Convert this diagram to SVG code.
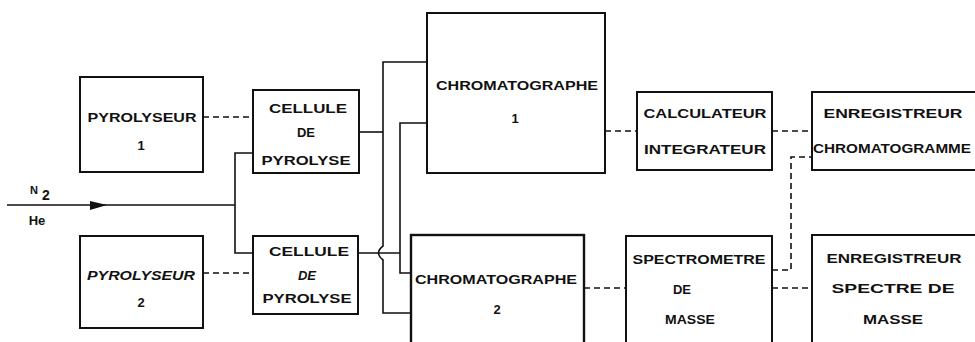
<svg xmlns="http://www.w3.org/2000/svg" width="975" height="342" viewBox="0 0 975 342">
<style>
.box{fill:#fff;stroke:#111;stroke-width:2}
.t{font-family:"Liberation Sans",Arial,sans-serif;font-weight:bold;font-size:13px;fill:#111;text-anchor:middle}
.s{fill:none;stroke:#111;stroke-width:1.6}
.d{fill:none;stroke:#111;stroke-width:1.6;stroke-dasharray:6 4}
</style>
<rect width="975" height="342" fill="#fff"/>
<g id="connectors">
<path class="d" d="M203,117 H253"/>
<path class="d" d="M203,273 H253"/>
<path class="s" d="M7,205 H235"/>
<polygon points="90,201 107,205 90,210" fill="#111"/>
<path class="s" d="M253,153 H235 V253 H253"/>
<path class="s" d="M359,132 H383"/>
<path class="s" d="M427,62 H383 V246 Q374,253 383,260 V313 H411"/>
<path class="s" d="M427,123 H400 V273 H411"/>
<path class="s" d="M358,253 H400"/>
<path class="d" d="M605,131 H637"/>
<path class="d" d="M772,131 H812"/>
<path class="d" d="M772,270 H791 V157 H812"/>
<path class="d" d="M584,288 H626"/>
<path class="d" d="M772,288 H812"/>
</g>
<g id="n2-label">
<text class="t" x="34" y="194" style="font-size:11px">N</text>
<text class="t" x="46" y="200" style="font-size:14px">2</text>
<text class="t" x="37" y="225">He</text>
</g>
<g id="pyrolyseur1">
<rect class="box" x="80" y="77" width="123" height="95"/>
<text class="t" x="142" y="122" textLength="109" lengthAdjust="spacingAndGlyphs">PYROLYSEUR</text>
<text class="t" x="141" y="150">1</text>
</g>
<g id="pyrolyseur2">
<rect class="box" x="80" y="236" width="123" height="92"/>
<text class="t" x="141" y="280" textLength="108" lengthAdjust="spacingAndGlyphs" font-style="italic">PYROLYSEUR</text>
<text class="t" x="141" y="307">2</text>
</g>
<g id="cellule1">
<rect class="box" x="253" y="90" width="106" height="83"/>
<text class="t" x="308" y="113" textLength="78" lengthAdjust="spacingAndGlyphs">CELLULE</text>
<text class="t" x="306" y="137">DE</text>
<text class="t" x="306" y="165" textLength="89" lengthAdjust="spacingAndGlyphs">PYROLYSE</text>
</g>
<g id="cellule2">
<rect class="box" x="253" y="236" width="105" height="78"/>
<text class="t" x="309" y="256" textLength="80" lengthAdjust="spacingAndGlyphs">CELLULE</text>
<text class="t" x="307" y="280" font-style="italic">DE</text>
<text class="t" x="307" y="303" textLength="89" lengthAdjust="spacingAndGlyphs">PYROLYSE</text>
</g>
<g id="chromatographe1">
<rect class="box" x="427" y="13" width="178" height="160"/>
<text class="t" x="517" y="90" textLength="162" lengthAdjust="spacingAndGlyphs">CHROMATOGRAPHE</text>
<text class="t" x="515" y="123">1</text>
</g>
<g id="chromatographe2">
<rect class="box" x="411" y="235" width="173" height="125" style="stroke-width:2.4"/>
<text class="t" x="496" y="284" textLength="162" lengthAdjust="spacingAndGlyphs">CHROMATOGRAPHE</text>
<text class="t" x="497" y="314">2</text>
</g>
<g id="calculateur">
<rect class="box" x="637" y="92" width="135" height="78"/>
<text class="t" x="705" y="118" textLength="123" lengthAdjust="spacingAndGlyphs">CALCULATEUR</text>
<text class="t" x="705" y="154" textLength="122" lengthAdjust="spacingAndGlyphs">INTEGRATEUR</text>
</g>
<g id="enregistreur1">
<rect class="box" x="812" y="92" width="200" height="78"/>
<text class="t" x="893" y="118" textLength="139" lengthAdjust="spacingAndGlyphs">ENREGISTREUR</text>
<text class="t" x="892" y="153" textLength="158" lengthAdjust="spacingAndGlyphs">CHROMATOGRAMME</text>
</g>
<g id="spectrometre">
<rect class="box" x="626" y="236" width="146" height="125"/>
<text class="t" x="699" y="264" textLength="133" lengthAdjust="spacingAndGlyphs">SPECTROMETRE</text>
<text class="t" x="682" y="294">DE</text>
<text class="t" x="690" y="324" textLength="50" lengthAdjust="spacingAndGlyphs">MASSE</text>
</g>
<g id="enregistreur2">
<rect class="box" x="812" y="235" width="200" height="125"/>
<text class="t" x="894" y="263" textLength="135" lengthAdjust="spacingAndGlyphs">ENREGISTREUR</text>
<text class="t" x="893" y="293" textLength="123" lengthAdjust="spacingAndGlyphs">SPECTRE DE</text>
<text class="t" x="893" y="324" textLength="60" lengthAdjust="spacingAndGlyphs">MASSE</text>
</g>
</svg>
